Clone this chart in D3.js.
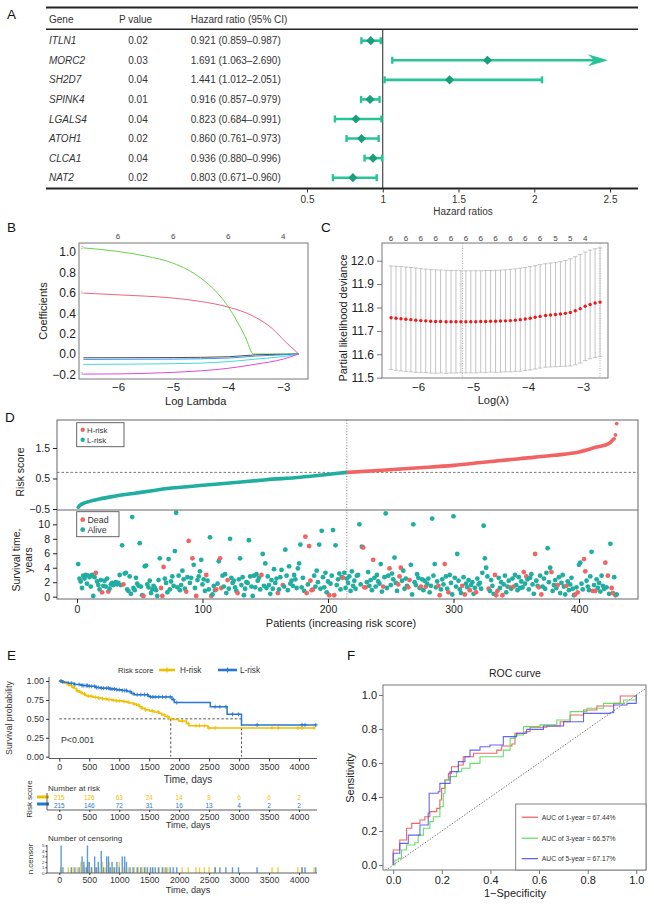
<!DOCTYPE html>
<html><head><meta charset="utf-8">
<script src="https://cdn.jsdelivr.net/npm/d3@7"></script>
<style>body{margin:0;background:#fff}</style>
</head><body>
<script>
// ---------------- DATA ----------------
// Panel A
const genes = ["ITLN1","MORC2","SH2D7","SPINK4","LGALS4","ATOH1","CLCA1","NAT2"];
const pValues = ["0.02","0.03","0.04","0.01","0.04","0.02","0.04","0.02"];
const hr = [0.921,1.691,1.441,0.916,0.823,0.860,0.936,0.803];
const hrLow = [0.859,1.063,1.012,0.857,0.684,0.761,0.880,0.671];
const hrHigh = [0.987,2.690,2.051,0.979,0.991,0.973,0.996,0.960];
const hrTicks = [0.5,1,1.5,2,2.5];

// Panel B (lasso coefficient paths: [log lambda, coefficient])
const lassoTicks = [-6,-5,-4,-3];
const lassoTopLabels = ["6","6","6","4"];
const lassoYTicks = [-0.2,0,0.2,0.4,0.6,0.8,1.0];
const coefPath1 = [[-6.63,1.04],[-6,1.005],[-5.5,0.96],[-5,0.89],[-4.5,0.745],[-4.2,0.6],[-4,0.465],[-3.84,0.32],[-3.69,0.17],[-3.54,0.0],[-2.72,0.0]];
const coefPath2 = [[-6.63,0.597],[-6,0.58],[-5,0.548],[-4.5,0.515],[-4,0.46],[-3.54,0.37],[-3.2,0.25],[-2.96,0.12],[-2.72,0.0]];
const coefPath3 = [[-6.63,-0.037],[-5,-0.035],[-4,-0.027],[-3.5,-0.008],[-3.0,-0.003],[-2.72,0]];
const coefPath4 = [[-6.63,-0.053],[-5,-0.05],[-4,-0.04],[-3.5,-0.02],[-3,-0.008],[-2.72,0]];
const coefPath5 = [[-6.63,-0.102],[-5,-0.095],[-4,-0.075],[-3.5,-0.05],[-3,-0.025],[-2.72,0]];
const coefPath6 = [[-6.63,-0.197],[-6,-0.195],[-5,-0.18],[-4,-0.14],[-3.5,-0.1],[-3,-0.05],[-2.72,0]];
const coefColors = ["#6CCF4A","#EC6482","#505050","#3C96EE","#44DADA","#DC4ADC"];
const coefLabels = ["2","1","4","5","6","3"];

// Panel C (cross-validation)
const cvLambda = [-6.49,-6.40,-6.31,-6.22,-6.13,-6.04,-5.95,-5.86,-5.77,-5.68,-5.59,-5.49,-5.40,-5.31,-5.22,-5.13,-5.04,-4.95,-4.86,-4.77,-4.68,-4.59,-4.50,-4.41,-4.32,-4.23,-4.14,-4.05,-3.96,-3.87,-3.78,-3.68,-3.59,-3.50,-3.41,-3.32,-3.23,-3.14,-3.05,-2.96,-2.87,-2.78,-2.69];
const cvMean = [11.756,11.754,11.752,11.750,11.748,11.746,11.744,11.743,11.741,11.740,11.740,11.739,11.739,11.739,11.739,11.739,11.739,11.739,11.740,11.740,11.741,11.741,11.742,11.743,11.744,11.746,11.748,11.751,11.754,11.758,11.762,11.766,11.768,11.770,11.772,11.775,11.779,11.786,11.795,11.805,11.813,11.819,11.823];
const cvUpper = [11.977,11.976,11.975,11.973,11.971,11.969,11.966,11.964,11.962,11.961,11.960,11.959,11.958,11.958,11.957,11.957,11.957,11.957,11.957,11.958,11.958,11.959,11.960,11.961,11.963,11.965,11.968,11.971,11.975,11.979,11.983,11.987,11.990,11.993,11.996,12.001,12.008,12.017,12.027,12.037,12.045,12.051,12.055];
const cvLower = [11.535,11.532,11.529,11.527,11.525,11.523,11.522,11.522,11.520,11.519,11.520,11.519,11.520,11.520,11.521,11.521,11.521,11.521,11.523,11.522,11.524,11.523,11.524,11.525,11.525,11.527,11.528,11.531,11.533,11.537,11.541,11.545,11.546,11.547,11.548,11.549,11.550,11.555,11.563,11.573,11.581,11.587,11.591];
const cvTopLabels = ["6","6","6","6","6","6","6","6","6","6","6","5","5","4"];
const cvYTicks = [11.5,11.6,11.7,11.8,11.9,12.0];
const cvLambdaMin = -5.19, cvLambda1se = -2.69;

// Panel D
const riskCutoff = 0.70, nLowRisk = 215;
const riskLowCurve = [[1,-0.44],[3,-0.36],[6,-0.30],[10,-0.25],[18,-0.17],[30,-0.08],[45,0.01],[60,0.10],[72,0.17],[85,0.22],[98,0.27],[124,0.36],[151,0.46],[178,0.54],[201,0.64],[215,0.70]];
const riskHighCurve = [[216,0.70],[240,0.76],[273,0.85],[300,0.93],[326,1.04],[353,1.15],[380,1.26],[400,1.37],[414,1.53],[424,1.65],[427,1.77]];
const riskTopPoints = [[428,1.80],[429,1.93],[430,2.30]];
const survivalYears = [
4.5,2.5,2.1,1.2,2.9,2.5,3.0,1.8,2.9,2.7, 1.4,3.0,0.1,2.7,3.3,2.1,1.6,1.0,2.3,0.6,
1.5,2.2,1.4,2.5,0.7,1.1,1.7,1.9,1.6,1.8, 2.0,1.7,1.9,3.0,1.6,7.1,1.7,3.2,3.3,1.0,
0.8,2.8,0.4,11.0,1.2,0.9,2.6,1.8,1.5,7.4, 1.4,0.2,0.1,4.2,4.3,1.7,1.3,2.2,0.5,1.0,
1.5,1.2,0.9,0.1,2.3,5.3,1.2,0.1,4.1,2.5, 1.9,0.6,5.2,1.0,2.1,2.8,1.5,6.3,11.6,1.3,
2.9,0.9,1.6,3.6,2.4,1.1,0.7,2.7,7.7,1.9, 2.6,5.3,4.4,1.2,0.1,2.3,2.8,3.5,5.1,1.7,
2.4,0.8,3.0,2.2,1.0,8.2,0.1,0.3,1.5,0.9, 1.0,1.8,4.9,5.3,1.2,2.9,1.4,3.1,0.5,2.3,
1.1,8.0,2.6,1.9,2.2,1.3,0.8,0.5,2.4,5.3, 1.6,2.7,0.2,1.1,2.0,1.9,7.8,2.8,1.4,0.1,
2.9,1.3,3.1,2.2,2.6,1.0,3.0,5.9,1.5,4.6, 1.2,2.8,1.6,0.4,2.3,1.1,3.8,1.9,2.5,0.5,
1.0,2.7,3.7,1.6,1.4,6.5,2.9,0.9,4.2,1.8, 2.2,1.5,3.0,2.4,1.2,3.9,4.6,7.2,1.3,2.6,
0.8,8.3,0.5,1.7,7.0,2.2,0.9,1.0,2.9,1.4, 3.6,2.0,7.2,1.1,9.1,2.7,1.3,3.3,0.6,2.1,
0.2,1.8,2.9,9.2,0.2,7.1,1.6,2.4,3.2,1.0, 2.7,2.6,3.3,1.2,2.5,1.9,2.8,0.8,3.5,1.5,
2.2,1.1,2.9,3.0,10.0,1.7,6.9,6.8,1.3,1.3, 2.0,3.4,1.5,2.3,0.9,5.1,2.6,1.4,3.0,2.1,
1.8,4.5,0.7,1.4,2.7,11.5,1.2,2.9,3.9,1.6, 3.2,2.4,5.4,1.9,0.8,1.7,2.8,4.0,2.2,3.6,
1.1,2.5,1.5,1.3,2.3,4.4,0.3,10.0,2.0,1.6, 3.1,2.6,1.2,1.4,2.4,0.9,2.2,1.4,1.8,2.5,
0.6,1.5,10.8,2.9,4.5,1.3,2.1,1.5,0.2,1.0, 2.4,1.7,4.5,2.8,1.1,0.6,3.0,1.9,0.3,11.1,
2.6,1.4,5.9,2.2,1.0,0.5,1.5,2.7,0.3,1.8, 1.3,2.3,0.9,1.6,2.0,0.4,1.2,0.6,2.5,1.7,
1.9,1.1,3.3,9.8,5.3,4.0,2.8,1.1,0.8,2.3, 1.5,0.4,3.0,0.2,0.8,2.6,1.2,2.0,0.2,1.7,
2.9,0.6,1.4,2.2,1.3,1.1,2.5,1.4,3.0,1.6, 0.9,2.7,1.2,2.1,1.3,3.4,1.8,2.8,2.4,1.0,
2.6,3.1,1.7,0.4,5.9,2.2,1.5,1.3,2.9,0.3, 1.4,2.5,1.1,3.3,6.7,2.0,4.0,3.4,0.8,1.6,
2.3,1.2,1.6,2.7,0.5,1.9,3.0,1.4,0.3,1.5, 2.1,0.9,1.7,2.6,1.1,0.2,0.3,1.3,0.6,4.4,
4.7,1.8,1.0,5.2,3.5,2.2,1.4,0.9,2.8,6.2, 0.8,1.6,0.8,2.4,1.2,1.9,0.7,2.9,1.5,1.1,
4.7,1.3,2.9,0.4,7.3,1.2,0.5,2.7,0.2,0.3];
const deadPatients = [15,20,25,37,53,67,68,69,87,89,92,95,103,107,111,114,115,120,128,147,160,164,182,183,185,186,187,188,201,205,212,228,229,230,236,244,249,256,257,258,264,265,274,278,288,289,293,296,307,309,313,318,328,333,334,335,339,345,348,356,358,365,368,370,378,383,390,397,399,404,405,411,413,421,423,426,427,429];
const patientTicks = [0,100,200,300,400];
const riskYTicks = [-0.5,0.5,1.5];
const survYTicks = [0,2,4,6,8,10];

// Panel E (Kaplan-Meier: [day, survival])
const kmHigh = [[0,1],[40,0.99],[90,0.97],[130,0.955],[170,0.94],[210,0.92],[250,0.90],[290,0.87],[330,0.85],[380,0.83],[430,0.81],[480,0.80],[560,0.785],[650,0.775],[720,0.765],[800,0.755],[880,0.745],[950,0.738],[1050,0.73],[1120,0.72],[1170,0.71],[1230,0.695],[1290,0.68],[1340,0.66],[1380,0.64],[1430,0.62],[1500,0.605],[1580,0.59],[1660,0.575],[1710,0.555],[1760,0.53],[1830,0.505],[1880,0.49],[1990,0.47],[2120,0.44],[2160,0.41],[2480,0.38],[4260,0.38]];
const kmLow = [[0,1],[60,0.985],[150,0.97],[250,0.955],[380,0.94],[500,0.93],[600,0.915],[700,0.905],[850,0.895],[950,0.885],[1050,0.875],[1130,0.86],[1200,0.835],[1250,0.82],[1480,0.80],[1520,0.79],[1880,0.755],[1920,0.715],[2520,0.66],[2800,0.56],[3040,0.42],[4290,0.42]];
const medianHigh = 1860, medianLow = 3040;
const timeTicks = [0,500,1000,1500,2000,2500,3000,3500,4000];
const survTicks = [0,0.25,0.5,0.75,1];
const atRiskHigh = [215,126,63,24,14,8,6,6,2];
const atRiskLow = [215,146,72,31,16,13,4,2,2];
const censorHigh = [[20,1],[150,1],[230,1],[300,1],[360,2],[420,1],[480,2],[530,1],[600,1],[660,1],[720,2],[780,1],[830,2],[900,1],[950,1],[1000,2],[1080,1],[1150,1],[1250,1],[1320,1],[1380,1],[1440,1],[1550,1],[1650,1],[1750,1],[1810,1],[2050,1],[2150,1],[2280,1],[2340,1],[2420,1],[2500,1],[2600,1],[3550,1],[3650,1],[3980,1],[4050,1],[4250,1]];
const censorLow = [[30,5],[60,1],[200,1],[260,1],[330,1],[380,3],[410,2],[450,1],[470,5],[500,2],[540,1],[590,3],[620,1],[650,2],[700,4],[740,1],[790,3],[820,3],[850,1],[880,2],[920,1],[960,2],[1000,1],[1050,3],[1090,3],[1120,2],[1180,1],[1230,1],[1300,1],[1360,1],[1420,1],[1470,1],[1520,1],[1560,1],[1600,1],[1660,1],[1720,1],[1780,1],[1850,1],[1900,1],[1960,1],[2600,1],[2680,1],[2780,1],[2890,1],[2990,1],[3300,1],[4050,1],[4100,1],[4280,1]];

// Panel F (ROC: [1-specificity, sensitivity])
const roc1 = [[0,0],[0,0.088],[0.027,0.088],[0.027,0.147],[0.055,0.147],[0.055,0.216],[0.076,0.245],[0.11,0.265],[0.13,0.284],[0.151,0.314],[0.179,0.333],[0.192,0.382],[0.199,0.451],[0.213,0.5],[0.227,0.539],[0.24,0.578],[0.268,0.588],[0.288,0.637],[0.33,0.657],[0.385,0.657],[0.426,0.676],[0.446,0.7],[0.488,0.712],[0.501,0.775],[0.543,0.784],[0.563,0.81],[0.632,0.818],[0.687,0.843],[0.728,0.882],[0.783,0.912],[0.838,0.935],[0.907,0.951],[0.934,0.994],[1,1]];
const roc3 = [[0,0],[0.007,0.029],[0.021,0.039],[0.034,0.088],[0.055,0.118],[0.089,0.131],[0.103,0.176],[0.124,0.216],[0.151,0.255],[0.165,0.284],[0.192,0.343],[0.206,0.422],[0.213,0.5],[0.234,0.52],[0.261,0.549],[0.282,0.569],[0.316,0.598],[0.357,0.637],[0.453,0.676],[0.481,0.745],[0.501,0.765],[0.536,0.814],[0.604,0.824],[0.673,0.853],[0.728,0.902],[0.797,0.922],[0.865,0.951],[0.948,0.971],[1,1]];
const roc5 = [[0,0],[0,0.069],[0.021,0.069],[0.027,0.127],[0.062,0.176],[0.096,0.176],[0.11,0.235],[0.144,0.304],[0.148,0.422],[0.185,0.431],[0.192,0.48],[0.234,0.549],[0.268,0.608],[0.295,0.637],[0.316,0.676],[0.357,0.696],[0.398,0.706],[0.453,0.755],[0.508,0.775],[0.549,0.798],[0.618,0.818],[0.701,0.843],[0.783,0.892],[0.893,0.896],[0.907,0.941],[0.962,0.951],[1,0.971],[1,1]];
const rocLabels = ["AUC of 1-year = 67.44%","AUC of 3-year = 66.57%","AUC of 5-year = 67.17%"];
const rocColors = ["#F04A4A","#4ED84E","#4A4AF0"];
const rocTicks = [0,0.2,0.4,0.6,0.8,1.0];

// ---------------- DRAWING ----------------
const FONT = '"Liberation Sans", Arial, Helvetica, sans-serif';
const svg = d3.select("body").append("svg").attr("width",654).attr("height",904)
  .style("font-family",FONT);
svg.append("rect").attr("width",654).attr("height",904).attr("fill","#fff");

function txt(g,x,y,s,o={}){
  const t=g.append("text").attr("x",x).attr("y",y).text(s)
    .attr("font-size",o.size||10).attr("fill",o.fill||"#222")
    .attr("text-anchor",o.anchor||"start").attr("font-family",FONT);
  if(o.italic) t.attr("font-style","italic");
  if(o.rotate) t.attr("transform",`rotate(-90,${x},${y})`);
  return t;
}
function styleAxis(g,size,color){
  g.attr("font-family",FONT).attr("font-size",size);
  g.selectAll("text").attr("fill",color);
  g.selectAll("line").attr("stroke",color);
  g.select(".domain").remove();
}
const fmtR = d => (d<0?"\u2212":"")+Math.abs(d).toFixed(1);

// Panel letters
[["A",7,18.5],["B",7,232],["C",321,232],["D",5,421.5],["E",7,660],["F",347,660]].forEach(d=>txt(svg,d[1],d[2],d[0],{size:13.5,fill:"#111"}));

// ===== Panel A =====
{
  const g=svg.append("g");
  const x=d3.scaleLinear().domain([0.5,2.5]).range([307,610]);
  const y=d3.scaleLinear().domain([0,genes.length-1]).range([40.7,177.7]);
  const lineC="#26C497", diaC="#1A9E7C";
  g.append("line").attr("x1",46).attr("x2",638).attr("y1",7.5).attr("y2",7.5).attr("stroke","#222").attr("stroke-width",2);
  g.append("line").attr("x1",46).attr("x2",638).attr("y1",29.3).attr("y2",29.3).attr("stroke","#222").attr("stroke-width",1.4);
  g.append("line").attr("x1",46).attr("x2",638).attr("y1",188.5).attr("y2",188.5).attr("stroke","#222").attr("stroke-width",1.8);
  g.append("line").attr("x1",x(1)).attr("x2",x(1)).attr("y1",29.3).attr("y2",188.5).attr("stroke","#222").attr("stroke-width",1);
  txt(g,49,23,"Gene",{size:10,fill:"#333"});
  txt(g,119,23,"P value",{size:10,fill:"#333"});
  txt(g,190.7,23,"Hazard ratio (95% CI)",{size:10,fill:"#333"});
  genes.forEach((gn,i)=>{
    const yy=y(i);
    txt(g,49,yy+3.6,gn,{size:10,fill:"#333",italic:true});
    txt(g,138,yy+3.6,pValues[i],{size:10,fill:"#333",anchor:"middle"});
    txt(g,190.7,yy+3.6,`${hr[i].toFixed(3)} (${hrLow[i].toFixed(3)}\u2013${hrHigh[i].toFixed(3)})`,{size:10,fill:"#333"});
    const over=hrHigh[i]>x.domain()[1];
    const tip=x(x.domain()[1])-2;
    const xr= over? tip-12 : x(hrHigh[i]);
    g.append("line").attr("x1",x(hrLow[i])).attr("x2",xr).attr("y1",yy).attr("y2",yy).attr("stroke",lineC).attr("stroke-width",2.6);
    g.append("line").attr("x1",x(hrLow[i])).attr("x2",x(hrLow[i])).attr("y1",yy-3.5).attr("y2",yy+3.5).attr("stroke",lineC).attr("stroke-width",2.4);
    if(!over) g.append("line").attr("x1",xr).attr("x2",xr).attr("y1",yy-3.5).attr("y2",yy+3.5).attr("stroke",lineC).attr("stroke-width",2.4);
    else g.append("path").attr("d",`M${tip},${yy}L${tip-20},${yy-6}L${tip-14},${yy}L${tip-20},${yy+6}Z`).attr("fill",lineC);
    const cx=x(hr[i]);
    g.append("path").attr("d",`M${cx},${yy-4.6}L${cx+4.6},${yy}L${cx},${yy+4.6}L${cx-4.6},${yy}Z`).attr("fill",diaC);
  });
  const ax=g.append("g").attr("transform","translate(0,188.5)")
    .call(d3.axisBottom(x).tickValues(hrTicks).tickSize(4).tickPadding(3).tickFormat(d3.format("~g")));
  styleAxis(ax,10,"#333");
  txt(g,463,215,"Hazard ratios",{size:10,fill:"#333",anchor:"middle"});
}

// ===== Panel B =====
{
  const g=svg.append("g");
  const x=d3.scaleLinear().domain([-6.71,-2.55]).range([79,308]);
  const y=d3.scaleLinear().domain([-0.245,1.088]).range([379,243]);
  const line=d3.line().x(d=>x(d[0])).y(d=>y(d[1])).curve(d3.curveMonotoneX);
  const paths=[coefPath1,coefPath2,coefPath3,coefPath4,coefPath5,coefPath6];
  paths.forEach((p,i)=>{
    g.append("path").attr("d",line(p)).attr("fill","none").attr("stroke",coefColors[i]).attr("stroke-width",1);
  });
  [0,1,5].forEach(i=>{
    const p=paths[i];
    txt(g,x(p[0][0])-0.5,y(p[0][1])+1.3,coefLabels[i],{size:3.5,fill:"#666",anchor:"end"});
  });
  g.append("rect").attr("x",79).attr("y",243).attr("width",229).attr("height",136).attr("fill","none").attr("stroke","#777").attr("stroke-width",1);
  const ay=g.append("g").attr("transform","translate(79,0)").call(d3.axisLeft(y).tickValues(lassoYTicks).tickSize(0).tickPadding(3).tickFormat(fmtR));
  styleAxis(ay,12,"#222");
  const ax=g.append("g").attr("transform","translate(0,379)").call(d3.axisBottom(x).tickValues(lassoTicks).tickSize(0).tickPadding(4).tickFormat(d=>"\u2212"+Math.abs(d)));
  styleAxis(ax,11.5,"#222");
  lassoTicks.forEach((t,i)=>txt(g,x(t),239,lassoTopLabels[i],{size:8,fill:"#444",anchor:"middle"}));
  txt(g,46.5,311,"Coefficients",{size:11,fill:"#222",anchor:"middle",rotate:true});
  txt(g,195.7,404.5,"Log Lambda",{size:11,fill:"#222",anchor:"middle"});
}

// ===== Panel C =====
{
  const g=svg.append("g");
  const x=d3.scaleLinear().domain([-6.655,-2.545]).range([382,608]);
  const y=d3.scaleLinear().domain([11.4987,12.0756]).range([378,243]);
  [cvLambdaMin,cvLambda1se].forEach(l=>g.append("line").attr("x1",x(l)).attr("x2",x(l)).attr("y1",243).attr("y2",378).attr("stroke","#999").attr("stroke-width",0.8).attr("stroke-dasharray","1,1.5"));
  cvLambda.forEach((l,i)=>{
    const xx=x(l);
    g.append("line").attr("x1",xx).attr("x2",xx).attr("y1",y(cvLower[i])).attr("y2",y(cvUpper[i])).attr("stroke","#bdbdbd").attr("stroke-width",0.9);
    [cvLower[i],cvUpper[i]].forEach(v=>g.append("line").attr("x1",xx-2.2).attr("x2",xx+2.2).attr("y1",y(v)).attr("y2",y(v)).attr("stroke","#bdbdbd").attr("stroke-width",0.9));
  });
  cvLambda.forEach((l,i)=>g.append("circle").attr("cx",x(l)).attr("cy",y(cvMean[i])).attr("r",1.7).attr("fill","#F01818"));
  g.append("rect").attr("x",382).attr("y",243).attr("width",226).attr("height",135).attr("fill","none").attr("stroke","#777").attr("stroke-width",1);
  const ay=g.append("g").attr("transform","translate(382,0)").call(d3.axisLeft(y).tickValues(cvYTicks).tickSize(5).tickPadding(3).tickFormat(d3.format(".1f")));
  styleAxis(ay,12,"#222"); ay.selectAll("line").attr("stroke","#777");
  const ax=g.append("g").attr("transform","translate(0,378)").call(d3.axisBottom(x).tickValues([-6,-5,-4,-3]).tickSize(0).tickPadding(5).tickFormat(d=>"\u2212"+Math.abs(d)));
  styleAxis(ax,11.5,"#222");
  cvTopLabels.forEach((s,i)=>txt(g,x(cvLambda[i*3]),240.5,s,{size:8,fill:"#444",anchor:"middle"}));
  txt(g,346.5,318,"Partial likelihood deviance",{size:11,fill:"#222",anchor:"middle",rotate:true});
  txt(g,493.3,404,"Log(\u03bb)",{size:11,fill:"#222",anchor:"middle"});
}

// ===== Panel D =====
{
  const g=svg.append("g");
  const teal="#1FAE9F", red="#F26464";
  const x=d3.scaleLinear().domain([-15.9,447]).range([57,638]);
  const yU=d3.scaleLinear().domain([-0.533,2.418]).range([510,420]);
  const yL=d3.scaleLinear().domain([-0.32,11.98]).range([599,510]);
  g.append("line").attr("x1",57).attr("x2",638).attr("y1",yU(riskCutoff)).attr("y2",yU(riskCutoff)).attr("stroke","#555").attr("stroke-width",0.8).attr("stroke-dasharray","2.5,2");
  g.append("line").attr("x1",x(nLowRisk)).attr("x2",x(nLowRisk)).attr("y1",420).attr("y2",599).attr("stroke","#666").attr("stroke-width",0.9).attr("stroke-dasharray","1,1.8");
  const line=d3.line().x(d=>x(d[0])).y(d=>yU(d[1])).curve(d3.curveMonotoneX);
  g.append("path").attr("d",line(riskLowCurve)).attr("fill","none").attr("stroke",teal).attr("stroke-width",3.6).attr("stroke-linecap","round");
  g.append("path").attr("d",line(riskHighCurve)).attr("fill","none").attr("stroke",red).attr("stroke-width",3.6).attr("stroke-linecap","round");
  riskTopPoints.forEach(p=>g.append("circle").attr("cx",x(p[0])).attr("cy",yU(p[1])).attr("r",1.9).attr("fill",red));
  const deadSet=new Set(deadPatients);
  survivalYears.forEach((v,i)=>{
    const p=i+1;
    g.append("circle").attr("cx",x(p)).attr("cy",yL(v)).attr("r",2.4).attr("fill",deadSet.has(p)?red:teal);
  });
  g.append("rect").attr("x",57).attr("y",420).attr("width",581).attr("height",179).attr("fill","none").attr("stroke","#666").attr("stroke-width",1);
  g.append("line").attr("x1",57).attr("x2",638).attr("y1",510).attr("y2",510).attr("stroke","#666").attr("stroke-width",1);
  const ayU=g.append("g").attr("transform","translate(57,0)").call(d3.axisLeft(yU).tickValues(riskYTicks).tickSize(4).tickPadding(3).tickFormat(fmtR));
  styleAxis(ayU,10.5,"#222");
  const ayL=g.append("g").attr("transform","translate(57,0)").call(d3.axisLeft(yL).tickValues(survYTicks).tickSize(4).tickPadding(3).tickFormat(d3.format("d")));
  styleAxis(ayL,10.5,"#222");
  const ax=g.append("g").attr("transform","translate(0,599)").call(d3.axisBottom(x).tickValues(patientTicks).tickSize(4).tickPadding(3).tickFormat(d3.format("d")));
  styleAxis(ax,10.5,"#222");
  txt(g,341,627,"Patients (increasing risk score)",{size:11,fill:"#222",anchor:"middle"});
  txt(g,23.5,472,"Risk score",{size:10.5,fill:"#222",anchor:"middle",rotate:true});
  txt(g,20,560,"Survival time,",{size:10.5,fill:"#222",anchor:"middle",rotate:true});
  txt(g,32,560,"years",{size:10.5,fill:"#222",anchor:"middle",rotate:true});
  g.append("rect").attr("x",76.7).attr("y",422.7).attr("width",47.3).attr("height",24).attr("fill","#fff").attr("stroke","#555").attr("stroke-width",0.9);
  [["H-risk",red,432.5],["L-risk",teal,442.5]].forEach(d=>{
    g.append("circle").attr("cx",82.7).attr("cy",d[2]-2.8).attr("r",2.2).attr("fill",d[1]);
    txt(g,87,d[2],d[0],{size:7.8,fill:"#333"});
  });
  g.append("rect").attr("x",76.7).attr("y",511.7).attr("width",42.3).attr("height",25).attr("fill","#fff").attr("stroke","#555").attr("stroke-width",0.9);
  [["Dead",red,522.7],["Alive",teal,532.7]].forEach(d=>{
    g.append("circle").attr("cx",82.7).attr("cy",d[2]-3).attr("r",2.4).attr("fill",d[1]);
    txt(g,87.5,d[2],d[0],{size:8.8,fill:"#333"});
  });
}

// ===== Panel E =====
{
  const g=svg.append("g");
  const yel="#EFC000", blu="#2878D0";
  const x=d3.scaleLinear().domain([-172,4300]).range([49,317]);
  const y=d3.scaleLinear().domain([0,1]).range([756.7,681]);
  const step=d3.line().x(d=>x(d[0])).y(d=>y(d[1])).curve(d3.curveStepAfter);
  g.append("line").attr("x1",x(0)).attr("x2",x(medianLow)).attr("y1",y(0.5)).attr("y2",y(0.5)).attr("stroke","#444").attr("stroke-width",0.9).attr("stroke-dasharray","2.5,2");
  [medianHigh,medianLow].forEach(m=>g.append("line").attr("x1",x(m)).attr("x2",x(m)).attr("y1",y(0.5)).attr("y2",y(0)).attr("stroke","#444").attr("stroke-width",0.9).attr("stroke-dasharray","2.5,2"));
  const survAt=(km,t)=>{let s=1;for(const p of km){if(p[0]<=t)s=p[1];else break;}return s;};
  [[kmHigh,yel,censorHigh],[kmLow,blu,censorLow]].forEach(([km,c,cens])=>{
    g.append("path").attr("d",step(km)).attr("fill","none").attr("stroke",c).attr("stroke-width",1.5);
    cens.forEach(ce=>{
      const cx=x(ce[0]), cy=y(survAt(km,ce[0]));
      g.append("path").attr("d",`M${cx-2},${cy}H${cx+2}M${cx},${cy-2}V${cy+2}`).attr("stroke",c).attr("stroke-width",0.9);
    });
  });
  g.append("line").attr("x1",49).attr("x2",49).attr("y1",677).attr("y2",758.5).attr("stroke","#333").attr("stroke-width",0.8);
  g.append("line").attr("x1",49).attr("x2",317).attr("y1",758.5).attr("y2",758.5).attr("stroke","#333").attr("stroke-width",0.8);
  const ay=g.append("g").attr("transform","translate(49,0)").call(d3.axisLeft(y).tickValues(survTicks).tickSize(3).tickPadding(2).tickFormat(d3.format(".2f")));
  styleAxis(ay,9,"#333");
  const ax=g.append("g").attr("transform","translate(0,758.5)").call(d3.axisBottom(x).tickValues(timeTicks).tickSize(3).tickPadding(2).tickFormat(d3.format("d")));
  styleAxis(ax,9,"#333");
  txt(g,188,783,"Time, days",{size:10,fill:"#333",anchor:"middle"});
  txt(g,12,718,"Survival probability",{size:8.8,fill:"#333",anchor:"middle",rotate:true});
  txt(g,61,743.3,"P<0.001",{size:8.8,fill:"#333"});
  txt(g,118,673,"Risk score",{size:7.6,fill:"#333"});
  [[159,175,yel,"H-risk",180],[218,237,blu,"L-risk",240]].forEach(d=>{
    g.append("line").attr("x1",d[0]).attr("x2",d[1]).attr("y1",670).attr("y2",670).attr("stroke",d[2]).attr("stroke-width",2.6);
    const m=(d[0]+d[1])/2;
    g.append("path").attr("d",`M${m-2.5},670H${m+2.5}M${m},667.5V672.5`).attr("stroke",d[2]).attr("stroke-width",1.2);
    txt(g,d[4],673,d[3],{size:8.2,fill:"#333"});
  });
  // number at risk
  txt(g,48,790.5,"Number at risk",{size:8,fill:"#333"});
  txt(g,31.5,799,"Risk score",{size:8,fill:"#333",anchor:"middle",rotate:true});
  g.append("line").attr("x1",37).attr("x2",49).attr("y1",797).attr("y2",797).attr("stroke",yel).attr("stroke-width",3);
  g.append("line").attr("x1",37).attr("x2",49).attr("y1",804).attr("y2",804).attr("stroke",blu).attr("stroke-width",3);
  g.append("line").attr("x1",47).attr("x2",47).attr("y1",793).attr("y2",810).attr("stroke","#333").attr("stroke-width",0.8);
  g.append("line").attr("x1",47).attr("x2",317).attr("y1",810).attr("y2",810).attr("stroke","#333").attr("stroke-width",0.8);
  timeTicks.forEach((t,i)=>{
    txt(g,x(t),800.3,atRiskHigh[i],{size:6.4,fill:yel,anchor:"middle"});
    txt(g,x(t),808,atRiskLow[i],{size:6.4,fill:blu,anchor:"middle"});
  });
  const ax2=g.append("g").attr("transform","translate(0,810)").call(d3.axisBottom(x).tickValues(timeTicks).tickSize(2).tickPadding(1.5).tickFormat(d3.format("d")));
  styleAxis(ax2,8.8,"#333");
  txt(g,188,828,"Time, days",{size:9.2,fill:"#333",anchor:"middle"});
  // censoring
  const yc=d3.scaleLinear().domain([0,5]).range([872.7,845.5]);
  txt(g,48,841,"Number of censoring",{size:8,fill:"#333"});
  txt(g,33,859,"n.censor",{size:8,fill:"#333",anchor:"middle",rotate:true});
  [[censorHigh,yel],[censorLow,blu]].forEach(([arr,c])=>arr.forEach(ce=>{
    g.append("rect").attr("x",x(ce[0])-0.7).attr("width",1.4).attr("y",yc(ce[1])).attr("height",yc(0)-yc(ce[1])).attr("fill",c).attr("fill-opacity",0.75);
  }));
  g.append("line").attr("x1",47).attr("x2",47).attr("y1",845).attr("y2",873).attr("stroke","#333").attr("stroke-width",0.8);
  g.append("line").attr("x1",47).attr("x2",317).attr("y1",873).attr("y2",873).attr("stroke","#333").attr("stroke-width",0.8);
  const ayc=g.append("g").attr("transform","translate(47,0)").call(d3.axisLeft(yc).tickValues([0,1,2,3,4,5]).tickSize(1.5).tickPadding(1).tickFormat(d3.format("d")));
  styleAxis(ayc,4.4,"#333");
  const ax3=g.append("g").attr("transform","translate(0,873)").call(d3.axisBottom(x).tickValues(timeTicks).tickSize(2).tickPadding(1.5).tickFormat(d3.format("d")));
  styleAxis(ax3,8.8,"#333");
  txt(g,188,892.5,"Time, days",{size:9.2,fill:"#333",anchor:"middle"});
}

// ===== Panel F =====
{
  const g=svg.append("g");
  const x=d3.scaleLinear().domain([-0.042,1.04]).range([383,646]);
  const y=d3.scaleLinear().domain([-0.0294,1.0588]).range([870,685]);
  g.append("defs").append("clipPath").attr("id","clipF").append("rect").attr("x",383).attr("y",685).attr("width",263).attr("height",185);
  g.append("line").attr("x1",x(-0.042)).attr("y1",y(-0.042)).attr("x2",x(1.04)).attr("y2",y(1.04)).attr("clip-path","url(#clipF)").attr("stroke","#555").attr("stroke-width",0.8).attr("stroke-dasharray","1.5,1.5");
  const step=d3.line().x(d=>x(d[0])).y(d=>y(d[1])).curve(d3.curveStepAfter);
  [roc1,roc3,roc5].forEach((r,i)=>g.append("path").attr("d",step(r)).attr("fill","none").attr("stroke",rocColors[i]).attr("stroke-width",1.1).attr("stroke-opacity",0.85));
  g.append("rect").attr("x",383).attr("y",685).attr("width",263).attr("height",185).attr("fill","none").attr("stroke","#777").attr("stroke-width",1);
  const ay=g.append("g").attr("transform","translate(383,0)").call(d3.axisLeft(y).tickValues(rocTicks).tickSize(4).tickPadding(2).tickFormat(d3.format(".1f")));
  styleAxis(ay,11,"#222"); ay.selectAll("line").attr("stroke","#777");
  const ax=g.append("g").attr("transform","translate(0,870)").call(d3.axisBottom(x).tickValues(rocTicks).tickSize(4).tickPadding(2).tickFormat(d3.format(".1f")));
  styleAxis(ax,11,"#222"); ax.selectAll("line").attr("stroke","#777");
  txt(g,515,677,"ROC curve",{size:10.5,fill:"#222",anchor:"middle"});
  txt(g,515,897,"1\u2212Specificity",{size:11,fill:"#222",anchor:"middle"});
  txt(g,354,778,"Sensitivity",{size:11,fill:"#222",anchor:"middle",rotate:true});
  g.append("rect").attr("x",515.7).attr("y",804).attr("width",130.3).attr("height",66).attr("fill","#fff").attr("stroke","#777").attr("stroke-width",0.9);
  [819.5,840.5,861].forEach((yy,i)=>{
    g.append("line").attr("x1",521.7).attr("x2",538).attr("y1",yy-2.3).attr("y2",yy-2.3).attr("stroke",rocColors[i]).attr("stroke-width",1.1);
    txt(g,541.7,yy,rocLabels[i],{size:6.8,fill:"#333"});
  });
}
</script>
</body></html>
